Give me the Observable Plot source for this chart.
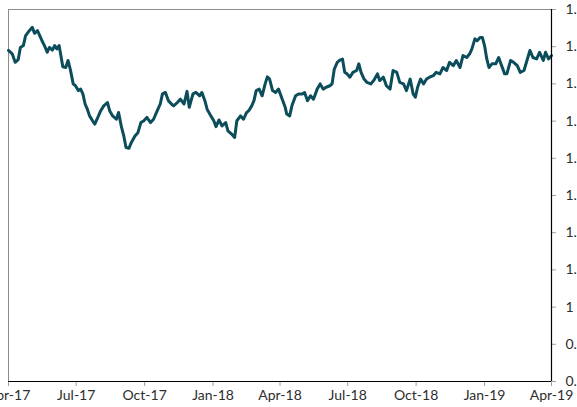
<!DOCTYPE html>
<html>
<head>
<meta charset="utf-8">
<script src="https://cdn.jsdelivr.net/npm/d3@7"></script>
<script src="https://cdn.jsdelivr.net/npm/@observablehq/plot@0.6"></script>
<style>
  html, body { margin: 0; padding: 0; background: #fff; overflow: hidden; }
  #chart { width: 577px; height: 407px; overflow: hidden; }
</style>
</head>
<body>
<div id="chart"></div>
<script>
const dates = [
"2017-04-01","2017-04-06","2017-04-10","2017-04-14","2017-04-17","2017-04-21","2017-04-24","2017-04-29",
"2017-05-03","2017-05-06","2017-05-10","2017-05-13","2017-05-16","2017-05-20","2017-05-23","2017-05-26","2017-05-30",
"2017-06-02","2017-06-05","2017-06-08","2017-06-10","2017-06-13","2017-06-17","2017-06-20","2017-06-23","2017-06-27","2017-06-30",
"2017-07-04","2017-07-07","2017-07-10","2017-07-13","2017-07-16","2017-07-19","2017-07-23","2017-07-26","2017-07-29",
"2017-08-03","2017-08-07","2017-08-12","2017-08-15","2017-08-19","2017-08-24","2017-08-27","2017-08-31",
"2017-09-03","2017-09-06","2017-09-10","2017-09-13","2017-09-18","2017-09-22","2017-09-26","2017-09-30",
"2017-10-04","2017-10-09","2017-10-13","2017-10-18","2017-10-22","2017-10-25","2017-10-29",
"2017-11-02","2017-11-06","2017-11-09","2017-11-14","2017-11-18","2017-11-23","2017-11-27","2017-11-30",
"2017-12-05","2017-12-09","2017-12-14","2017-12-17","2017-12-21","2017-12-24","2017-12-29",
"2018-01-02","2018-01-05","2018-01-09","2018-01-13","2018-01-18","2018-01-21","2018-01-26","2018-01-30",
"2018-02-02","2018-02-07","2018-02-11","2018-02-15","2018-02-18","2018-02-22","2018-02-25","2018-02-28",
"2018-03-04","2018-03-08","2018-03-12","2018-03-15","2018-03-18","2018-03-22","2018-03-26","2018-03-30",
"2018-04-04","2018-04-08","2018-04-10","2018-04-14","2018-04-17","2018-04-22","2018-04-26",
"2018-05-01","2018-05-04","2018-05-08","2018-05-12","2018-05-16","2018-05-21","2018-05-25","2018-05-29",
"2018-06-02","2018-06-07","2018-06-10","2018-06-13","2018-06-17","2018-06-20","2018-06-24","2018-06-27","2018-06-30",
"2018-07-04","2018-07-08","2018-07-13","2018-07-16","2018-07-19","2018-07-23","2018-07-27",
"2018-08-01","2018-08-05","2018-08-10","2018-08-13","2018-08-18","2018-08-22","2018-08-27","2018-08-31",
"2018-09-05","2018-09-09","2018-09-14","2018-09-18","2018-09-23","2018-09-27","2018-09-30",
"2018-10-03","2018-10-07","2018-10-11","2018-10-15","2018-10-19","2018-10-24","2018-10-28",
"2018-11-02","2018-11-06","2018-11-11","2018-11-15","2018-11-20","2018-11-24","2018-11-29",
"2018-12-03","2018-12-08","2018-12-12","2018-12-15","2018-12-19","2018-12-22","2018-12-26","2018-12-29",
"2019-01-01","2019-01-04","2019-01-07","2019-01-11","2019-01-16","2019-01-20","2019-01-23","2019-01-28","2019-01-31",
"2019-02-05","2019-02-09","2019-02-14","2019-02-18","2019-02-23","2019-02-27",
"2019-03-03","2019-03-07","2019-03-12","2019-03-16","2019-03-21","2019-03-24","2019-03-28","2019-04-01"
];
const values = [
1.690,1.681,1.658,1.665,1.698,1.703,1.730,1.743,
1.752,1.736,1.743,1.730,1.716,1.700,1.685,1.698,1.691,
1.703,1.694,1.703,1.681,1.646,1.644,1.663,1.640,1.600,1.595,
1.582,1.586,1.573,1.546,1.532,1.514,1.501,1.492,1.505,
1.528,1.541,1.550,1.528,1.514,1.505,1.523,1.483,
1.460,1.429,1.427,1.442,1.460,1.469,1.496,1.501,
1.510,1.496,1.505,1.528,1.546,1.573,1.577,
1.555,1.546,1.541,1.550,1.559,1.546,1.580,1.537,
1.573,1.577,1.568,1.577,1.555,1.532,1.514,
1.501,1.485,1.503,1.487,1.496,1.474,1.465,1.456,
1.501,1.514,1.505,1.523,1.528,1.541,1.555,1.582,
1.586,1.568,1.600,1.619,1.613,1.582,1.577,1.586,
1.559,1.537,1.519,1.514,1.541,1.568,1.573,
1.573,1.577,1.555,1.568,1.559,1.586,1.600,1.586,
1.591,1.595,1.600,1.640,1.658,1.663,1.667,1.631,1.627,
1.618,1.631,1.636,1.654,1.631,1.613,1.604,
1.600,1.609,1.627,1.609,1.618,1.595,1.586,1.636,
1.631,1.604,1.600,1.582,1.613,1.573,1.564,
1.591,1.613,1.600,1.613,1.618,1.622,1.631,
1.627,1.644,1.636,1.658,1.649,1.663,1.644,
1.676,1.671,1.681,1.694,1.721,1.716,1.725,1.725,
1.703,1.667,1.644,1.654,1.654,1.671,1.654,1.627,1.627,
1.663,1.658,1.649,1.631,1.636,1.663,
1.690,1.671,1.667,1.685,1.663,1.685,1.667,1.676
];
const xDomain = ["2017-04-01", "2019-04-01"];
const yTicks = [0.8, 0.9, 1.0, 1.1, 1.2, 1.3, 1.4, 1.5, 1.6, 1.7, 1.8];

const parse = d3.utcParse("%Y-%m-%d");
const data = dates.map((d, i) => ({date: parse(d), value: values[i]}));
const x0 = parse(xDomain[0]), x1 = parse(xDomain[1]);

const chart = Plot.plot({
  width: 577,
  height: 407,
  marginLeft: 8,
  marginRight: 26,
  marginTop: 9,
  marginBottom: 26,
  style: {fontFamily: "Lato, sans-serif", fontSize: "14px", color: "#2e2e2e", background: "#fff", overflow: "hidden"},
  x: {type: "utc", domain: [x0, x1]},
  y: {domain: [0.8, 1.8]},
  marks: [
    Plot.ruleY([1.8], {stroke: "#8c8c8c", strokeWidth: 1}),
    Plot.ruleX([x0], {stroke: "#8c8c8c", strokeWidth: 1}),
    Plot.axisY(yTicks, {anchor: "right", tickSize: 4, tickPadding: 10, stroke: "#a0a0a0", fill: "#2e2e2e", tickFormat: d3.format(""), label: null}),
    Plot.axisX({ticks: d3.utcMonth.every(3), anchor: "bottom", tickSize: 5, tickPadding: 4, stroke: "#a0a0a0", fill: "#2e2e2e", tickFormat: d3.utcFormat("%b-%y"), label: null}),
    Plot.lineY(data, {x: "date", y: "value", stroke: "#0b4d5b", strokeWidth: 3, strokeLinejoin: "round"}),
    Plot.ruleY([0.8], {stroke: "#000", strokeWidth: 1.2}),
    Plot.ruleX([x1], {stroke: "#000", strokeWidth: 1.2})
  ]
});
document.getElementById("chart").appendChild(chart);
</script>
</body>
</html>
